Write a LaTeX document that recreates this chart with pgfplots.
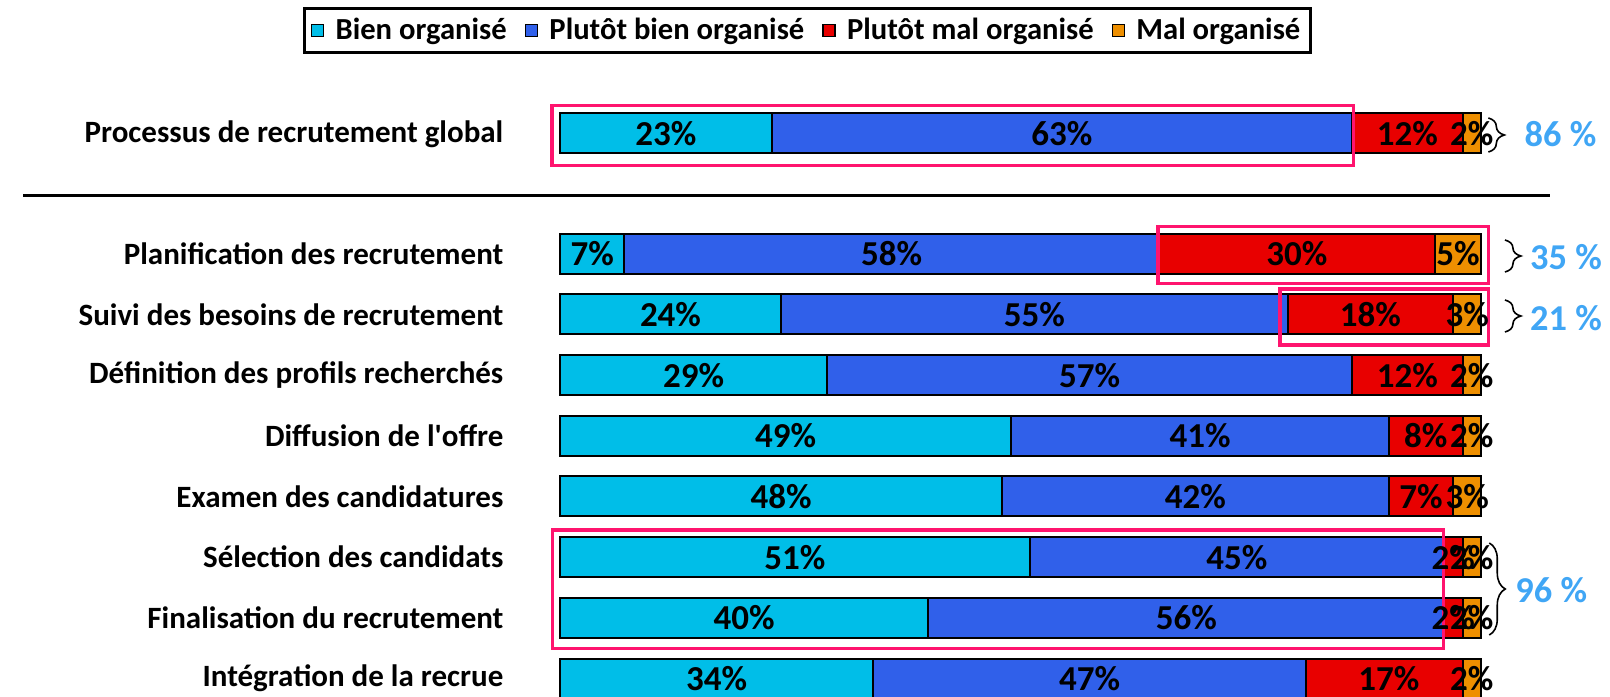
\documentclass[border=0pt]{standalone}
\usepackage{fontspec}
\setmainfont{Carlito}
\usepackage{pgfplots}
\pgfplotsset{compat=1.18}
\usetikzlibrary{decorations.pathreplacing}

\definecolor{cA}{RGB}{0,190,232}
\definecolor{cB}{RGB}{48,96,234}
\definecolor{cC}{RGB}{232,0,0}
\definecolor{cD}{RGB}{238,143,0}
\definecolor{hot}{RGB}{255,20,110}
\definecolor{sky}{RGB}{64,166,245}

\begin{document}
\begin{tikzpicture}[
  pct/.style={font=\fontsize{17.5}{19}\selectfont\bfseries, inner sep=0pt},
  cat/.style={font=\fontsize{15.5}{18}\selectfont\bfseries, inner sep=0pt, anchor=east},
  tot/.style={font=\fontsize{18.2}{20}\selectfont\bfseries, text=sky, inner sep=0pt, anchor=west},
  br/.style={decorate, decoration={brace, amplitude=8pt}, line width=0.8pt},
  pink/.style={draw=hot, line width=1.75pt},
]
\begin{axis}[
  set layers,
  scale only axis,
  width=805pt, height=348pt,
  xmin=-60.80, xmax=114.01,
  ymin=-696, ymax=0,
  hide axis,
  xbar stacked,
  bar width=40,
  legend columns=4,
  legend image code/.code={\draw[#1,draw=black,line width=0.8pt] (0pt,-3pt) rectangle (6pt,3pt);
    \path[draw=none,fill=none] (0pt,0pt) -- (10pt,0pt);},
  legend style={at={(rel axis cs:0.5016,0.956)}, anchor=center, draw=black,
    line width=1.5pt, font=\fontsize{15.3}{17}\selectfont\bfseries,
    inner xsep=3pt, inner ysep=3pt,
    /tikz/every even column/.append style={column sep=7pt}},
  every axis plot/.append style={on layer=pre main},
]
\path (rel axis cs:0,0) rectangle (rel axis cs:1,1);

\addplot[draw=black, line width=1pt, fill=cA] coordinates {
  (23,-133.5) (7,-253.7) (24,-314.4) (29,-375.1) (49,-435.8)
  (48,-496.5) (51,-557.2) (40,-617.9) (34,-678.6)};
\addplot[draw=black, line width=1pt, fill=cB] coordinates {
  (63,-133.5) (58,-253.7) (55,-314.4) (57,-375.1) (41,-435.8)
  (42,-496.5) (45,-557.2) (56,-617.9) (47,-678.6)};
\addplot[draw=black, line width=1pt, fill=cC] coordinates {
  (12,-133.5) (30,-253.7) (18,-314.4) (12,-375.1) (8,-435.8)
  (7,-496.5) (2,-557.2) (2,-617.9) (17,-678.6)};
\addplot[draw=black, line width=1pt, fill=cD] coordinates {
  (2,-133.5) (5,-253.7) (3,-314.4) (2,-375.1) (2,-435.8)
  (3,-496.5) (2,-557.2) (2,-617.9) (2,-678.6)};
\legend{Bien organisé, Plutôt bien organisé, Plutôt mal organisé, Mal organisé}

% segment labels, centred in each segment
\node[pct] at (axis cs:11.5,-133.5) {23\%};
\node[pct] at (axis cs:54.5,-133.5) {63\%};
\node[pct] at (axis cs:92,-133.5) {12\%};
\node[pct] at (axis cs:99,-133.5) {2\%};
\node[pct] at (axis cs:3.5,-253.7) {7\%};
\node[pct] at (axis cs:36,-253.7) {58\%};
\node[pct] at (axis cs:80,-253.7) {30\%};
\node[pct] at (axis cs:97.5,-253.7) {5\%};
\node[pct] at (axis cs:12,-314.4) {24\%};
\node[pct] at (axis cs:51.5,-314.4) {55\%};
\node[pct] at (axis cs:88,-314.4) {18\%};
\node[pct] at (axis cs:98.5,-314.4) {3\%};
\node[pct] at (axis cs:14.5,-375.1) {29\%};
\node[pct] at (axis cs:57.5,-375.1) {57\%};
\node[pct] at (axis cs:92,-375.1) {12\%};
\node[pct] at (axis cs:99,-375.1) {2\%};
\node[pct] at (axis cs:24.5,-435.8) {49\%};
\node[pct] at (axis cs:69.5,-435.8) {41\%};
\node[pct] at (axis cs:94,-435.8) {8\%};
\node[pct] at (axis cs:99,-435.8) {2\%};
\node[pct] at (axis cs:24,-496.5) {48\%};
\node[pct] at (axis cs:69,-496.5) {42\%};
\node[pct] at (axis cs:93.5,-496.5) {7\%};
\node[pct] at (axis cs:98.5,-496.5) {3\%};
\node[pct] at (axis cs:25.5,-557.2) {51\%};
\node[pct] at (axis cs:73.5,-557.2) {45\%};
\node[pct] at (axis cs:97,-557.2) {2\%};
\node[pct] at (axis cs:99,-557.2) {2\%};
\node[pct] at (axis cs:20,-617.9) {40\%};
\node[pct] at (axis cs:68,-617.9) {56\%};
\node[pct] at (axis cs:97,-617.9) {2\%};
\node[pct] at (axis cs:99,-617.9) {2\%};
\node[pct] at (axis cs:17,-678.6) {34\%};
\node[pct] at (axis cs:57.5,-678.6) {47\%};
\node[pct] at (axis cs:90,-678.6) {17\%};
\node[pct] at (axis cs:99,-678.6) {2\%};

\node[cat] at (axis cs:-6.1,-134.5) {Processus de recrutement global};
\node[cat] at (axis cs:-6.1,-253.7) {Planification des recrutement};
\node[cat] at (axis cs:-6.1,-314.4) {Suivi des besoins de recrutement};
\node[cat] at (axis cs:-6.1,-375.1) {Définition des profils recherchés};
\node[cat] at (axis cs:-6.1,-435.8) {Diffusion de l\textquotesingle offre};
\node[cat] at (axis cs:-6.1,-496.5) {Examen des candidatures};
\node[cat] at (axis cs:-6.1,-557.2) {Sélection des candidats};
\node[cat] at (axis cs:-6.1,-617.9) {Finalisation du recrutement};
\node[cat] at (axis cs:-6.1,-678.6) {Intégration de la recrue};

\draw[line width=1.2pt] (axis cs:-58.3,-195.5) -- (axis cs:107.5,-195.5);

\draw[pink] (axis cs:-0.87,-105.5) rectangle (axis cs:86.16,-165.5);
\draw[pink] (axis cs:64.93,-226.5) rectangle (axis cs:100.8,-283.5);
\draw[pink] (axis cs:78.18,-289) rectangle (axis cs:100.8,-345);
\draw[pink] (axis cs:-0.81,-530) rectangle (axis cs:95.93,-648.5);

\draw[br] (axis cs:100.8,-118) -- (axis cs:100.8,-152);
\node[tot] at (axis cs:104.7,-134) {86 \%};
\draw[br] (axis cs:102.6,-240) -- (axis cs:102.6,-272);
\node[tot] at (axis cs:105.3,-257) {35 \%};
\draw[br] (axis cs:102.6,-300) -- (axis cs:102.6,-332);
\node[tot] at (axis cs:105.3,-318) {21 \%};
\draw[br] (axis cs:100.9,-543) -- (axis cs:100.9,-635);
\node[tot] at (axis cs:103.7,-590) {96 \%};
\end{axis}
\end{tikzpicture}
\end{document}
